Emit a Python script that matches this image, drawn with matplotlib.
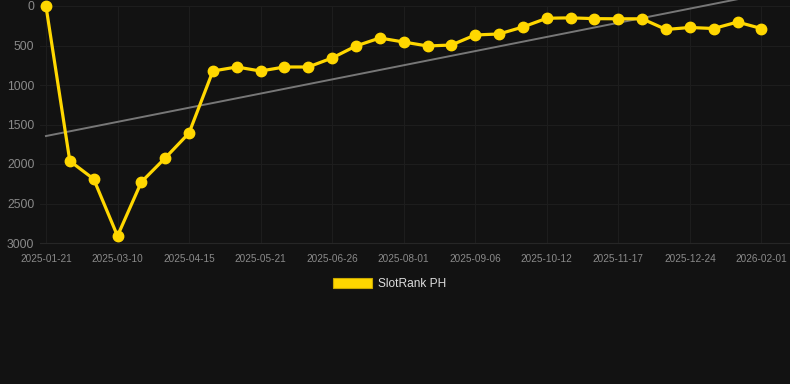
import numpy as np
import matplotlib
matplotlib.use('Agg')
import matplotlib.pyplot as plt
from matplotlib.patches import Patch

# dates of the rank snapshots (only every third one is labelled on the axis)
dates = ['2025-01-21', '2025-02-06', '2025-02-22', '2025-03-10', '2025-03-22',
         '2025-04-03', '2025-04-15', '2025-04-27', '2025-05-09', '2025-05-21',
         '2025-06-02', '2025-06-14', '2025-06-26', '2025-07-08', '2025-07-20',
         '2025-08-01', '2025-08-13', '2025-08-25', '2025-09-06', '2025-09-18',
         '2025-09-30', '2025-10-12', '2025-10-24', '2025-11-05', '2025-11-17',
         '2025-11-29', '2025-12-11', '2025-12-24', '2026-01-06', '2026-01-19',
         '2026-02-01']
rank = [1, 1962, 2190, 2911, 2228, 1924, 1608, 823, 772, 823,
        772, 772, 658, 506, 405, 456, 506, 494, 367, 354,
        266, 155, 150, 160, 162, 162, 297, 272, 285, 203, 285]
trend_ends = [1646, -146]
series_name = 'SlotRank PH'

bg = '#121212'
gold = '#FFD700'

plt.rcParams['font.family'] = ['Liberation Sans', 'DejaVu Sans']

fig = plt.figure(figsize=(7.9, 3.84), dpi=100, facecolor=bg)
ax = fig.add_axes([40 / 790, 1 - 243 / 384, 750 / 790, 237 / 384], facecolor=bg)

x = np.arange(len(rank))
ax.plot([x[0], x[-1]], trend_ends, color='#777777', lw=1.4, zorder=2, clip_on=False)
ax.plot(x, rank, color=gold, lw=2.3, marker='o', ms=7.5, zorder=3, clip_on=False)

ax.set_xlim(-0.25, 31.2)
ax.set_ylim(3000, 0)
ax.set_yticks(range(0, 3001, 500))
ax.set_xticks(x[::3])
ax.set_xticklabels(dates[::3])

ax.grid(True, color='#1d1d1d', lw=0.8)
ax.set_axisbelow(True)
for s in ['top', 'right', 'left']:
    ax.spines[s].set_visible(False)
ax.spines['bottom'].set_color('#262626')
ax.tick_params(axis='y', length=0, pad=4, labelsize=8.8, labelcolor='#8a8a8a')
ax.tick_params(axis='x', length=0, pad=8, labelsize=7.2, labelcolor='#8a8a8a')

fig.legend(handles=[Patch(facecolor=gold, edgecolor='#c9a800', lw=0.8)],
           labels=[series_name], loc='center',
           bbox_to_anchor=(390 / 790, 1 - 284 / 384), frameon=False,
           fontsize=8.6, labelcolor='#dddddd', handlelength=3.25,
           handleheight=0.92, handletextpad=0.5)

fig.savefig('out.png', dpi=100, facecolor=bg)
